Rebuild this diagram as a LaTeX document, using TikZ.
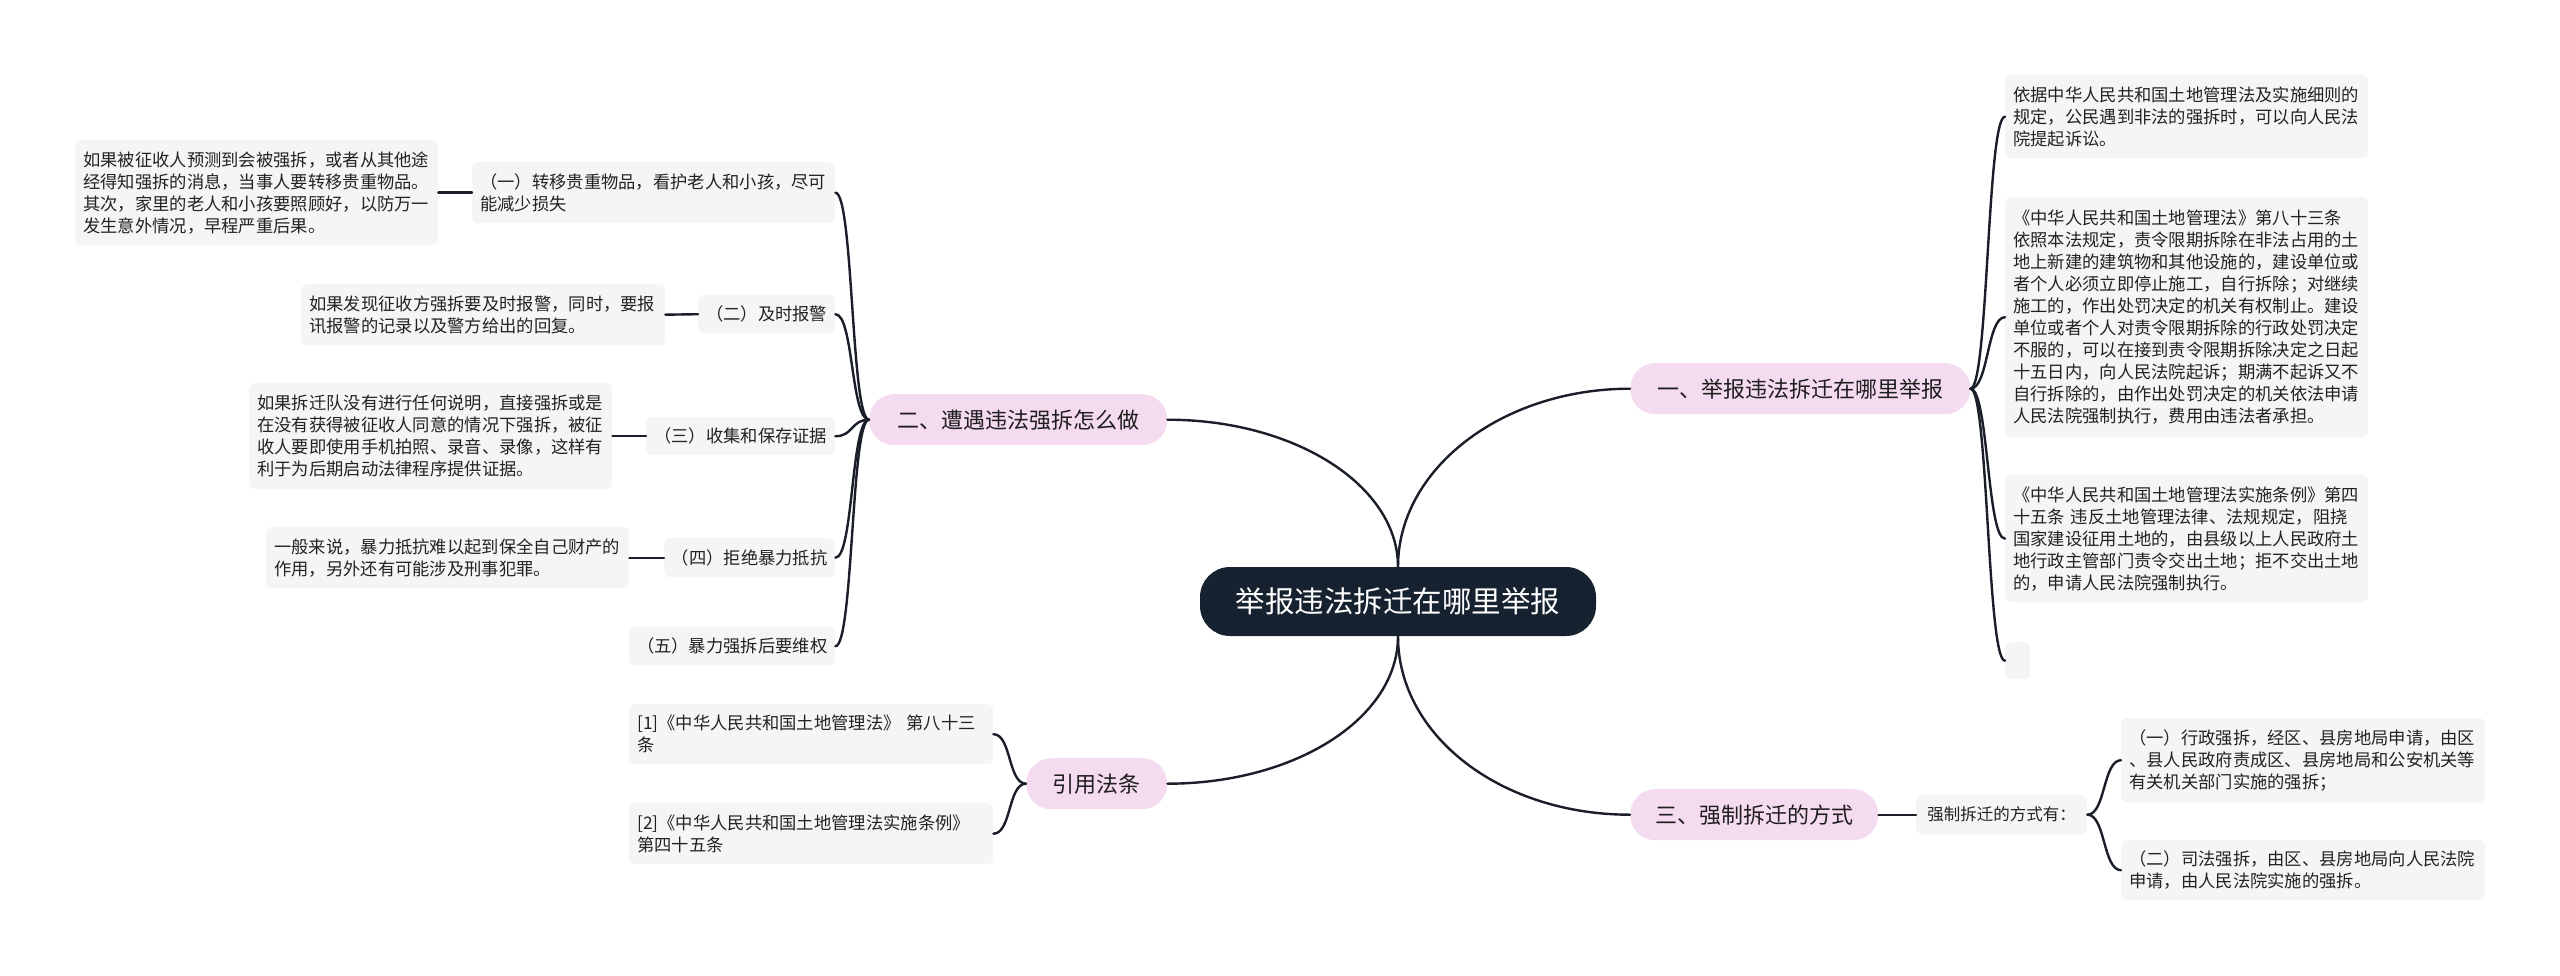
\documentclass[tikz,border=0pt]{standalone}
\usepackage{fontspec}
\setmainfont{Noto Sans CJK SC}
\definecolor{rootfill}{RGB}{23,34,48}
\definecolor{pinkfill}{RGB}{245,219,240}
\definecolor{leafgray}{RGB}{245,245,245}
\definecolor{linec}{RGB}{25,30,40}
\definecolor{txt}{RGB}{34,34,34}
\definecolor{txtp}{RGB}{30,30,30}
\begin{document}
\begin{tikzpicture}[x=1pt,y=1pt,
  rootbox/.style={fill=rootfill, text=white, rounded corners=30pt, inner sep=0pt,
    minimum width=396pt, minimum height=69pt, font=\fontsize{29.5}{34}\selectfont},
  pill/.style={fill=pinkfill, text=txtp, rounded corners=25pt, anchor=north west,
    inner sep=0pt, minimum height=51pt, font=\fontsize{22}{26}\selectfont},
  leaf/.style={fill=leafgray, text=txt, rounded corners=6pt, anchor=north west,
    inner xsep=8pt, inner ysep=0pt, align=left, font=\fontsize{17.3}{22}\selectfont},
  sub/.style={fill=leafgray, text=txt, rounded corners=6pt, anchor=north west,
    inner sep=0pt, align=center, font=\fontsize{17.3}{22}\selectfont},
  link/.style={draw=linec, line width=2.4pt, line cap=round},
  brR/.style={out=0, in=180, out distance=18pt, in distance=18pt},
  brL/.style={out=180, in=0, out distance=18pt, in distance=18pt}
]
\useasboundingbox (0,0) rectangle (2560,-976);

% root
\node[rootbox] (root) at (1398,-601.5) {举报违法拆迁在哪里举报};

% main branches
\node[pill, minimum width=340pt] (m1) at (1630,-363) {一、举报违法拆迁在哪里举报};
\node[pill, minimum width=298pt] (m2) at (869,-394) {二、遭遇违法强拆怎么做};
\node[pill, minimum width=248pt] (m3) at (1630,-789) {三、强制拆迁的方式};
\node[pill, minimum width=141pt] (m4) at (1026,-758) {引用法条};

% right: branch one
\node[leaf, minimum width=363pt, text width=347pt, minimum height=83pt] (r1) at (2005,-75)
 {依据中华人民共和国土地管理法及实施细则的\\规定，公民遇到非法的强拆时，可以向人民法\\院提起诉讼。};
\node[leaf, minimum width=363pt, text width=347pt, minimum height=240pt] (r2) at (2005,-197)
 {《中华人民共和国土地管理法》第八十三条\\依照本法规定，责令限期拆除在非法占用的土\\地上新建的建筑物和其他设施的，建设单位或\\者个人必须立即停止施工，自行拆除；对继续\\施工的，作出处罚决定的机关有权制止。建设\\单位或者个人对责令限期拆除的行政处罚决定\\不服的，可以在接到责令限期拆除决定之日起\\十五日内，向人民法院起诉；期满不起诉又不\\自行拆除的，由作出处罚决定的机关依法申请\\人民法院强制执行，费用由违法者承担。};
\node[leaf, minimum width=363pt, text width=347pt, minimum height=127pt] (r3) at (2005,-475)
 {《中华人民共和国土地管理法实施条例》第四\\十五条 违反土地管理法律、法规规定，阻挠\\国家建设征用土地的，由县级以上人民政府土\\地行政主管部门责令交出土地；拒不交出土地\\的，申请人民法院强制执行。};
\node[sub, minimum width=25pt, minimum height=37pt] (r4) at (2005,-642) {};

% right: branch three
\node[sub, minimum width=171pt, minimum height=39pt, font=\fontsize{16.5}{20}\selectfont] (k) at (1916,-795) {强制拆迁的方式有：};
\node[leaf, minimum width=364pt, text width=348pt, minimum height=84pt] (la) at (2121,-718)
 {（一）行政强拆，经区、县房地局申请，由区\\、县人民政府责成区、县房地局和公安机关等\\有关机关部门实施的强拆；};
\node[leaf, minimum width=364pt, text width=348pt, minimum height=60pt] (lb) at (2121,-840)
 {（二）司法强拆，由区、县房地局向人民法院\\申请，由人民法院实施的强拆。};

% left: branch two
\node[leaf, minimum width=363pt, text width=347pt, minimum height=61pt] (s1) at (472,-162)
 {（一）转移贵重物品，看护老人和小孩，尽可\\能减少损失};
\node[leaf, minimum width=363pt, text width=347pt, minimum height=105pt] (l1) at (75,-140)
 {如果被征收人预测到会被强拆，或者从其他途\\经得知强拆的消息，当事人要转移贵重物品。\\其次，家里的老人和小孩要照顾好，以防万一\\发生意外情况，早程严重后果。};
\node[sub, minimum width=137pt, minimum height=38pt] (s2) at (698,-295) {（二）及时报警};
\node[leaf, minimum width=364pt, text width=348pt, minimum height=61pt] (l2) at (301,-284)
 {如果发现征收方强拆要及时报警，同时，要报\\讯报警的记录以及警方给出的回复。};
\node[sub, minimum width=189pt, minimum height=38pt] (s3) at (646,-417) {（三）收集和保存证据};
\node[leaf, minimum width=363pt, text width=347pt, minimum height=106pt] (l3) at (249,-383)
 {如果拆迁队没有进行任何说明，直接强拆或是\\在没有获得被征收人同意的情况下强拆，被征\\收人要即使用手机拍照、录音、录像，这样有\\利于为后期启动法律程序提供证据。};
\node[sub, minimum width=171pt, minimum height=39pt] (s4) at (664,-538) {（四）拒绝暴力抵抗};
\node[leaf, minimum width=363pt, text width=347pt, minimum height=61pt] (l4) at (266,-527)
 {一般来说，暴力抵抗难以起到保全自己财产的\\作用，另外还有可能涉及刑事犯罪。};
\node[sub, minimum width=206pt, minimum height=38pt] (s5) at (629,-627) {（五）暴力强拆后要维权};

% left: citations
\node[leaf, minimum width=364pt, text width=348pt, minimum height=60pt] (c1) at (629,-704)
 {[1]《中华人民共和国土地管理法》 第八十三\\条};
\node[leaf, minimum width=364pt, text width=348pt, minimum height=61pt] (c2) at (629,-803)
 {[2]《中华人民共和国土地管理法实施条例》\\第四十五条};

% root connectors
\draw[link] (root.north) to[out=90, in=180, out distance=98pt, in distance=128pt] (m1.west);
\draw[link] (root.north) to[out=90, in=0, out distance=81pt, in distance=128pt] (m2.east);
\draw[link] (root.south) to[out=-90, in=0, out distance=82pt, in distance=128pt] (m4.east);
\draw[link] (root.south) to[out=-90, in=180, out distance=99pt, in distance=130pt] (m3.west);

% brackets
\foreach \c in {r1,r2,r3,r4} \draw[link] (m1.east) to[brR] (\c.west);
\draw[link] (m3.east) -- (k.west);
\foreach \c in {la,lb} \draw[link] (k.east) to[brR] (\c.west);
\foreach \c in {s1,s2,s3,s4,s5} \draw[link] (m2.west) to[brL] (\c.east);
\foreach \c in {c1,c2} \draw[link] (m4.west) to[brL] (\c.east);

% sub to leaf
\draw[link] (s1.west) -- (l1.east);
\draw[link] (s2.west) -- (l2.east);
\draw[link] (s3.west) -- (l3.east);
\draw[link] (s4.west) -- (l4.east);
\end{tikzpicture}
\end{document}
